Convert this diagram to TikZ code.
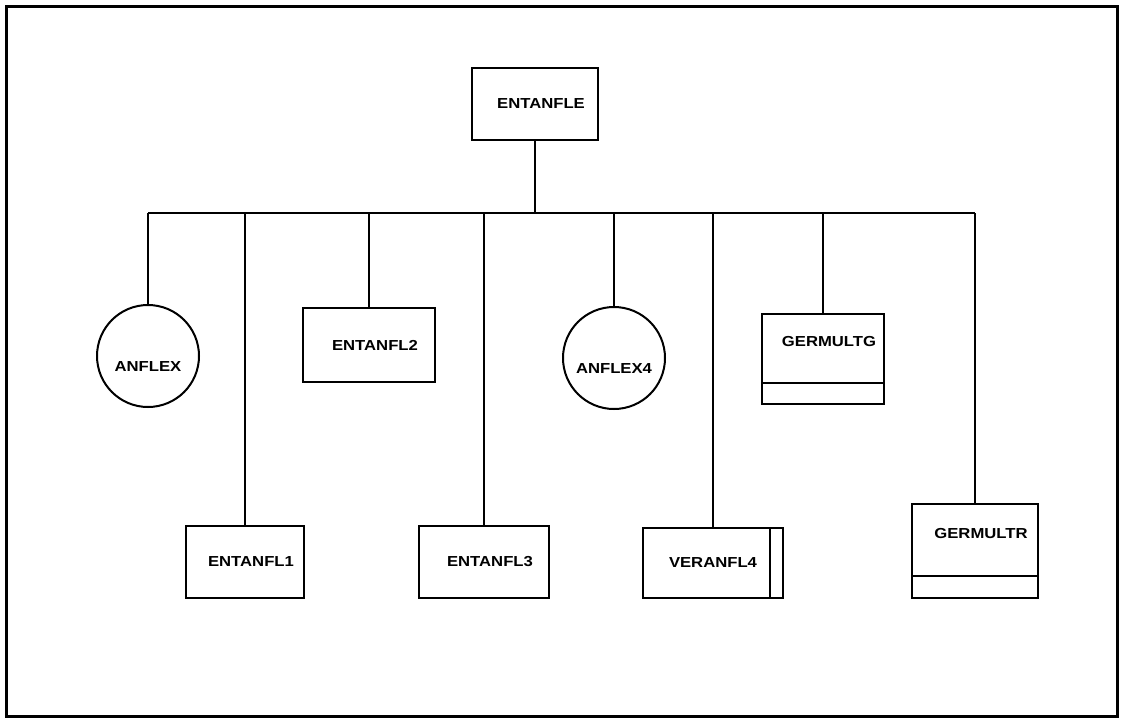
\documentclass[tikz,border=0pt]{standalone}
\usepackage{fontspec}
\setmainfont{Liberation Sans}[FakeStretch=1.15]
\usepackage{tikz}

\begin{document}
\begin{tikzpicture}[x=1pt, y=-1pt,
    font=\fontsize{14.5}{16}\selectfont\bfseries,
    plainbox/.style={rectangle, draw, line width=2pt, inner sep=0pt},
    box/.style={plainbox, execute at begin node={\hspace*{12pt}}},
    bandbox/.style={box, text height=10pt, text depth=35pt},
    lib/.style={circle, draw, line width=2pt, minimum size=102pt, inner sep=0pt, text height=30pt, text depth=0pt},
    link/.style={line width=2pt}]
  \useasboundingbox (0,0) rectangle (1124,720);
  % Frame
  \draw[line width=3pt] (6,6) rectangle (1117,716);
  % Nodes
  \node[box, minimum width=126pt, minimum height=72pt] (entanfle) at (535,104) {ENTANFLE};
  \foreach \n/\t/\x/\y in {anflex/ANFLEX/148/356, anflex4/ANFLEX4/614/358} {
    \node[lib] (\n) at (\x,\y) {\t};
  }
  \foreach \n/\t/\x/\y/\w/\h in {entanfl1/ENTANFL1/245/562/118/72, entanfl2/ENTANFL2/369/345/132/74,
      entanfl3/ENTANFL3/484/562/130/72} {
    \node[box, minimum width=\w pt, minimum height=\h pt] (\n) at (\x,\y) {\t};
  }
  \node[plainbox, minimum width=140pt, minimum height=70pt] (veranfl4) at (713,563) {VERANFL4};
  \foreach \n/\t/\x/\y/\w/\h in {germultg/GERMULTG/823/359/122/90, germultr/GERMULTR/975/551/126/94} {
    \node[bandbox, minimum width=\w pt, minimum height=\h pt] (\n) at (\x,\y) {\t};
  }
  % Edges
  \coordinate (bus) at (535,213);
  \draw[link] (entanfle) -- (bus);
  \draw[link] (anflex |- bus) -- (germultr |- bus);
  \foreach \n in {anflex, entanfl1, entanfl2, entanfl3, anflex4, veranfl4, germultg, germultr} {
    \draw[link] (\n |- bus) -- (\n);
  }
  % Bands
  \foreach \n/\d in {germultg/22, germultr/23} {
    \draw[link] ([yshift=\d pt]\n.south west) -- ([yshift=\d pt]\n.south east);
  }
  \draw[link] ([xshift=-14pt]veranfl4.north east) -- ([xshift=-14pt]veranfl4.south east);
\end{tikzpicture}
\end{document}
